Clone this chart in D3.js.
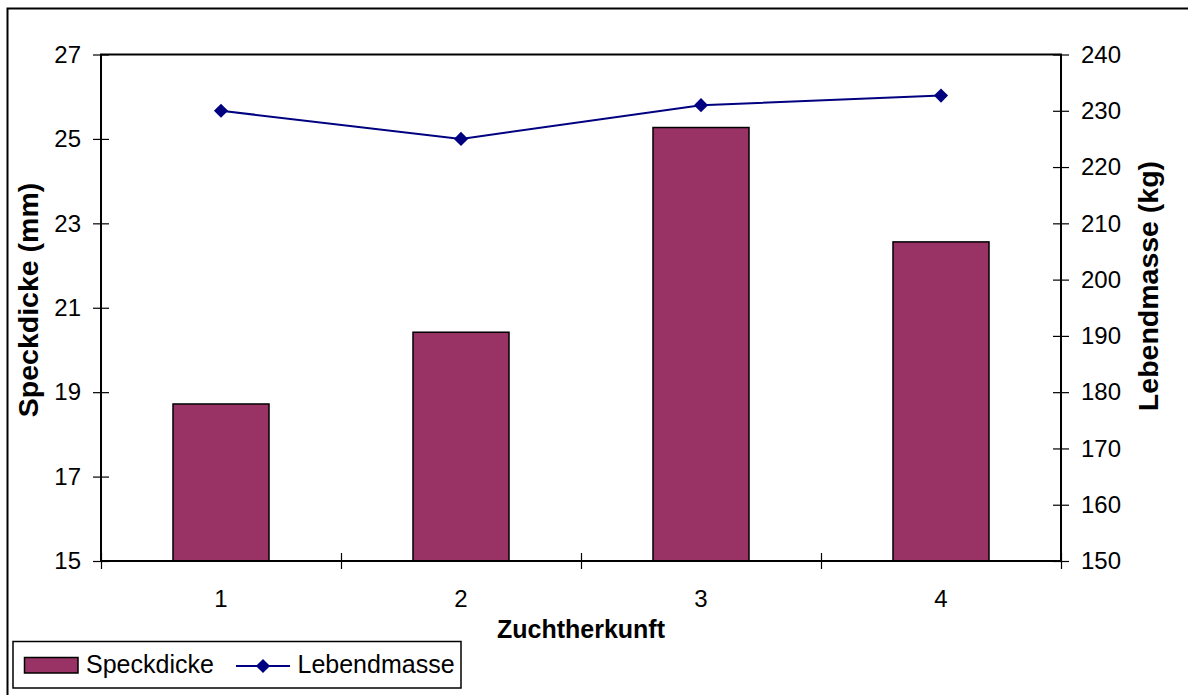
<!DOCTYPE html>
<html>
<head>
<meta charset="utf-8">
<script src="https://cdn.jsdelivr.net/npm/d3@7"></script>
<style>
  html, body { margin: 0; padding: 0; background: #fff; }
  svg { display: block; font-family: "Liberation Sans", Arial, sans-serif; }
</style>
</head>
<body>
<svg id="chart" width="1188" height="695"></svg>
<script>
// Breed origin (Zuchtherkunft) vs. back fat thickness and live weight
const categories = ["1", "2", "3", "4"];
const speckdicke = [18.72, 20.42, 25.27, 22.56];     // mm, bars, left axis
const lebendmasse = [230, 225, 231, 232.7];           // kg, line, right axis
const leftTicks = [15, 17, 19, 21, 23, 25, 27];
const rightTicks = [150, 160, 170, 180, 190, 200, 210, 220, 230, 240];

const svg = d3.select("#chart");

const plot = { left: 101, right: 1061, top: 54.5, bottom: 561 };

const x = d3.scaleBand()
  .domain(categories)
  .range([plot.left, plot.right])
  .paddingInner(0.6)
  .paddingOuter(0.3);

const yLeft = d3.scaleLinear().domain([15, 27]).range([plot.bottom, plot.top]);
const yRight = d3.scaleLinear().domain([150, 240]).range([plot.bottom, plot.top]);

// outer chart frame
svg.append("rect")
  .attr("x", 7.5).attr("y", 8.5)
  .attr("width", 1200).attr("height", 700)
  .attr("fill", "none").attr("stroke", "#000").attr("stroke-width", 2);

// bars
svg.append("g").selectAll("rect")
  .data(speckdicke)
  .join("rect")
  .attr("x", (d, i) => x(categories[i]))
  .attr("width", x.bandwidth())
  .attr("y", d => yLeft(d))
  .attr("height", d => yLeft(15) - yLeft(d))
  .attr("fill", "#993366")
  .attr("stroke", "#000")
  .attr("stroke-width", 1.5);

// plot area border
svg.append("rect")
  .attr("x", plot.left).attr("y", plot.top)
  .attr("width", plot.right - plot.left)
  .attr("height", plot.bottom - plot.top)
  .attr("fill", "none").attr("stroke", "#000").attr("stroke-width", 2);

// left axis
const gL = svg.append("g")
  .attr("transform", `translate(${plot.left},0)`)
  .call(d3.axisLeft(yLeft).tickValues(leftTicks).tickFormat(d3.format("d")).tickSize(8).tickPadding(12));
gL.selectAll(".tick line").attr("x2", -8).clone().attr("x2", 8);
gL.selectAll(".tick line").attr("stroke-width", 1.2);

// right axis
const gR = svg.append("g")
  .attr("transform", `translate(${plot.right},0)`)
  .call(d3.axisRight(yRight).tickValues(rightTicks).tickFormat(d3.format("d")).tickSize(8).tickPadding(12));
gR.selectAll(".tick line").clone().attr("x2", -8);
gR.selectAll(".tick line").attr("stroke-width", 1.2);

// bottom axis: ticks between categories, labels centred under each
const xb = d3.scaleLinear().domain([0, categories.length]).range([plot.left, plot.right]);
const gB = svg.append("g")
  .attr("transform", `translate(0,${plot.bottom})`)
  .call(d3.axisBottom(xb).tickValues(d3.range(categories.length + 1)).tickFormat("").tickSize(8));
gB.selectAll(".tick line").clone().attr("y2", -8);
gB.selectAll(".tick line").attr("stroke-width", 1.2);

svg.append("g").selectAll("text")
  .data(categories)
  .join("text")
  .attr("x", d => x(d) + x.bandwidth() / 2)
  .attr("y", 607)
  .attr("text-anchor", "middle")
  .attr("font-size", 24)
  .text(d => d);

[gL, gR, gB].forEach(g => {
  g.select(".domain").remove();
  g.selectAll("text").attr("font-size", 24).attr("fill", "#000")
    .attr("font-family", "'Liberation Sans', Arial, sans-serif");
});

// line series
const line = d3.line()
  .x((d, i) => x(categories[i]) + x.bandwidth() / 2)
  .y(d => yRight(d));

svg.append("path")
  .datum(lebendmasse)
  .attr("d", line)
  .attr("fill", "none")
  .attr("stroke", "#000080")
  .attr("stroke-width", 2);

svg.append("g").selectAll("path")
  .data(lebendmasse)
  .join("path")
  .attr("transform", (d, i) => `translate(${x(categories[i]) + x.bandwidth() / 2},${yRight(d)}) rotate(45)`)
  .attr("d", d3.symbol().type(d3.symbolSquare).size(100))
  .attr("fill", "#000080");

// axis titles
svg.append("text")
  .attr("transform", "translate(38,300) rotate(-90)")
  .attr("text-anchor", "middle")
  .attr("font-size", 28.5).attr("font-weight", "bold")
  .text("Speckdicke (mm)");

svg.append("text")
  .attr("transform", "translate(1158,286) rotate(-90)")
  .attr("text-anchor", "middle")
  .attr("font-size", 28.5).attr("font-weight", "bold")
  .text("Lebendmasse (kg)");

svg.append("text")
  .attr("x", (plot.left + plot.right) / 2)
  .attr("y", 638)
  .attr("text-anchor", "middle")
  .attr("font-size", 25).attr("font-weight", "bold")
  .text("Zuchtherkunft");

// legend
const legend = svg.append("g");
legend.append("rect")
  .attr("x", 13).attr("y", 641.5).attr("width", 448).attr("height", 46.5)
  .attr("fill", "#fff").attr("stroke", "#000").attr("stroke-width", 1.5);
legend.append("rect")
  .attr("x", 24.5).attr("y", 657.5).attr("width", 53.5).attr("height", 15.5)
  .attr("fill", "#993366").attr("stroke", "#000").attr("stroke-width", 1.5);
legend.append("text")
  .attr("x", 86).attr("y", 673)
  .attr("font-size", 25)
  .text("Speckdicke");
legend.append("line")
  .attr("x1", 236).attr("x2", 290).attr("y1", 666).attr("y2", 666)
  .attr("stroke", "#000080").attr("stroke-width", 2);
legend.append("path")
  .attr("transform", "translate(263,666) rotate(45)")
  .attr("d", d3.symbol().type(d3.symbolSquare).size(100))
  .attr("fill", "#000080");
legend.append("text")
  .attr("x", 297.5).attr("y", 673)
  .attr("font-size", 25)
  .text("Lebendmasse");
</script>
</body>
</html>
